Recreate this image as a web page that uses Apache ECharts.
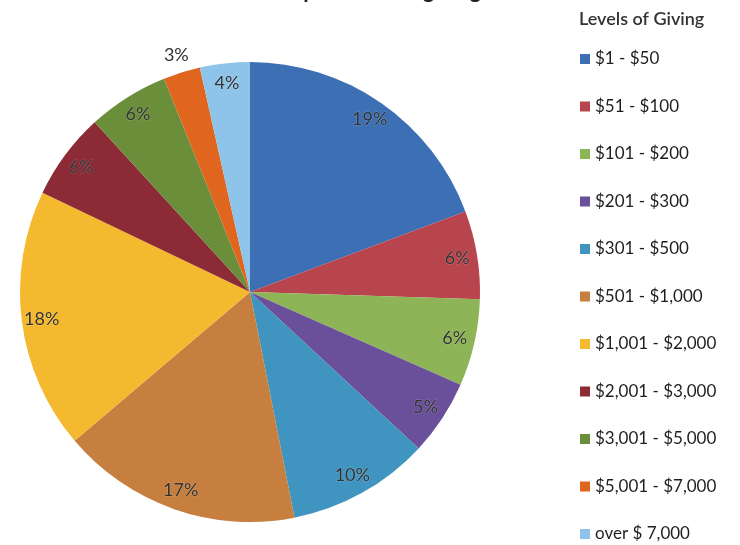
<!DOCTYPE html>
<html>
<head>
<meta charset="utf-8">
<script src="https://cdn.jsdelivr.net/npm/echarts@6/dist/echarts.min.js"></script>
<style>
  html, body { margin: 0; padding: 0; background: #fff; }
  #chart { width: 740px; height: 545px; }
</style>
</head>
<body>
<div id="chart"></div>
<script>
// giving levels, clockwise from 12 o'clock
const levels = ['$1 - $50', '$51 - $100', '$101 - $200', '$201 - $300', '$301 - $500',
  '$501 - $1,000', '$1,001 - $2,000', '$2,001 - $3,000', '$3,001 - $5,000',
  '$5,001 - $7,000', 'over $ 7,000']
// share of donors (%)
const shares = [19.3, 6.2, 6.1, 5.3, 10.0, 16.9, 18.3, 6.1, 5.7, 2.6, 3.5]
// percentages printed on the slices
const shownPct = ['19%', '6%', '6%', '5%', '10%', '17%', '18%', '6%', '6%', '3%', '4%']
const colors = ['#3d6fb5', '#b8444d', '#8db456', '#6a509a', '#3f95bf', '#c67f3f',
  '#f4b92e', '#8c2a35', '#6b8e3a', '#e0651f', '#8ec4ea']

const font = 'Lato, "Liberation Sans", sans-serif'
const OUTSIDE_IDX = 9 // the 3% label sits outside the rim
const chart = echarts.init(document.getElementById('chart'))

const pieData = levels.map((name, i) => ({
  name,
  value: shares[i],
  itemStyle: { color: colors[i] }
}))

// invisible twin pies, only used to place labels (inside label = half their radius)
const labelData = (showOutside) => levels.map((name, i) => ({
  name,
  value: shares[i],
  label: { show: (i === OUTSIDE_IDX) === showOutside }
}))

const labelStyle = {
  position: 'inside',
  formatter: p => shownPct[p.dataIndex],
  fontFamily: font,
  fontSize: 18,
  color: '#333',
  textBorderColor: 'rgba(255,255,255,0.22)',
  textBorderWidth: 1
}

const labelPie = (radius, showOutside) => ({
  type: 'pie',
  center: [250, 292],
  radius: [0, radius],
  startAngle: 90,
  clockwise: true,
  silent: true,
  itemStyle: { color: 'rgba(0,0,0,0)' },
  label: labelStyle,
  labelLine: { show: false },
  data: labelData(showOutside)
})

chart.setOption({
  animation: false,
  title: [
    {
      text: 'Number of Donors per Level of giving',
      left: 293,
      textAlign: 'center',
      top: -25,
      textStyle: { fontFamily: font, fontSize: 22, fontWeight: 'bold', color: '#222' }
    },
    {
      text: 'Levels of Giving',
      left: 574,
      top: 5,
      textStyle: { fontFamily: font, fontSize: 18, fontWeight: 600, color: '#333' }
    }
  ],
  legend: {
    orient: 'vertical',
    left: 580,
    top: 50,
    padding: 0,
    icon: 'rect',
    itemWidth: 10,
    itemHeight: 10,
    itemGap: 29.5,
    data: levels,
    selectedMode: false,
    textStyle: { fontFamily: font, fontSize: 17, color: '#1e1e1e', lineHeight: 18 }
  },
  series: [
    {
      type: 'pie',
      center: [250, 292],
      radius: [0, 230],
      startAngle: 90,
      clockwise: true,
      silent: true,
      label: { show: false },
      labelLine: { show: false },
      data: pieData
    },
    labelPie(414, false),
    labelPie(490, true)
  ]
})
</script>
</body>
</html>
